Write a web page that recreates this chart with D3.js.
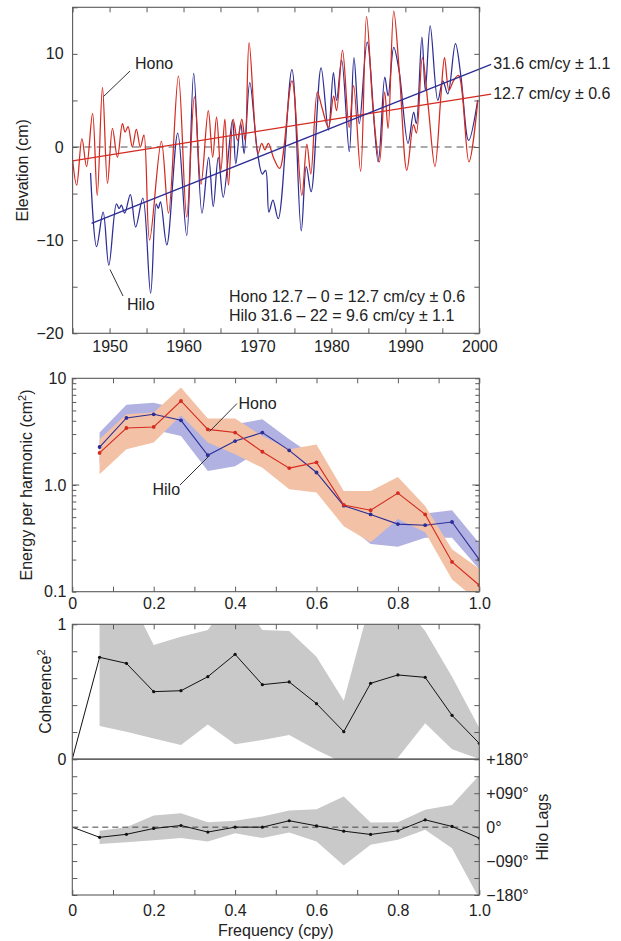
<!DOCTYPE html>
<html>
<head>
<meta charset="utf-8">
<script src="https://cdn.jsdelivr.net/npm/d3@7"></script>
<style>
  html, body { margin: 0; padding: 0; background: #fff; }
  svg { display: block; font-family: "Liberation Sans", Arial, Helvetica, sans-serif; }
</style>
</head>
<body>
<svg id="chart" width="621" height="941"></svg>
<script>
// ---------- Sea level records (smoothed, cm) ----------
const honoYear = [1945.0,1945.55,1946.26,1946.89,1947.7,1948.33,1949.04,1949.72,1950.39,1951.06,1951.74,1952.1,1952.5,1953.08,1953.62,1954.16,1954.65,1955.41,1957.0,1957.97,1959.31,1960.43,1961.47,1962.36,1963.35,1963.94,1964.47,1965.05,1965.59,1966.08,1966.71,1967.3,1967.88,1968.33,1968.87,1970.08,1970.57,1971.02,1971.47,1972.2,1973.0,1974.66,1976.0,1976.68,1977.22,1978.1,1978.7,1979.6,1980.3,1980.7,1981.5,1982.4,1983.0,1983.95,1984.75,1985.65,1986.5,1987.2,1987.67,1988.43,1989.2,1990.2,1991.1,1991.5,1992.3,1993.1,1994.0,1994.8,1995.3,1995.9,1996.5,1997.2,1998.6,1999.8];
const honoCm   = [-1.4,-4.1,0.9,-2.1,3.6,-5.2,6.4,-3.9,2.0,-1.1,2.5,1.6,2.2,0.0,1.9,0.0,1.3,-10.0,0.6,-7.1,7.6,-7.5,5.4,-4.0,3.9,-1.1,3.2,-2.5,3.0,-4.1,3.0,0.7,3.0,0.7,11.2,-0.7,0.4,-0.3,0.4,-1.2,-2.3,7.1,-5.2,0.3,-2.9,5.9,4.3,2.1,5.5,3.9,10.4,2.1,6.6,-2.6,14.0,3.9,-1.6,5.9,2.0,14.6,7.9,-2.5,2.4,1.5,9.6,4.3,-2.1,5.4,9.6,6.1,7.1,7.7,-1.6,5.0];

const hiloYear = [1947.43,1948.24,1949.13,1949.9,1950.93,1951.3,1951.6,1952.05,1952.81,1953.53,1954.5,1955.55,1956.31,1956.58,1956.89,1957.74,1959.22,1960.43,1961.38,1962.5,1963.4,1964.02,1964.7,1965.37,1966.62,1967.07,1967.74,1968.19,1968.96,1969.99,1970.65,1971.1,1971.55,1972.09,1972.81,1974.66,1975.92,1976.6,1977.26,1978.6,1979.6,1980.27,1980.7,1981.39,1982.42,1983.05,1983.77,1984.84,1986.32,1987.22,1987.67,1988.43,1989.15,1990.36,1991.12,1991.48,1992.24,1992.7,1993.36,1994.39,1995.07,1995.74,1996.77,1997.5,1998.56,1999.78];
const hiloCm   = [-2.8,-10.7,-7.0,-12.7,-6.1,-6.6,-6.25,-7.1,-5.1,-8.6,-5.5,-15.7,-6.1,-6.6,-5.9,-10.5,1.5,-9.5,7.9,-7.1,-1.1,-6.4,-1.1,-5.4,2.9,-1.8,2.5,-0.7,6.9,-0.5,-2.9,-2.5,-7.0,-5.7,-7.7,8.3,-9.0,-2.1,-4.8,8.5,1.8,8.0,5.0,9.3,-0.5,9.6,2.5,11.25,-1.6,7.5,5.5,10.7,8.2,0.4,3.75,2.5,11.8,6.1,13.0,5.0,7.1,5.7,11.1,7.7,0.7,5.0];

// Linear trends (rate in cm per century, start year and level, end year of the drawn line)
const trendNames  = ["Hono", "Hilo"];
const trendRate   = [12.7, 31.6];
const trendStart  = [1945.0, 1947.57];
const trendLevel0 = [-1.5, -8.2];
const trendEnd    = [2001.6, 2001.6];
const trendLabels = ["12.7 cm/cy \u00b1 0.6", "31.6 cm/cy \u00b1 1.1"];
const summaryLines = ["Hono 12.7 \u2013 0 = 12.7 cm/cy \u00b1 0.6", "Hilo 31.6 \u2013 22 = 9.6 cm/cy \u00b1 1.1"];

// ---------- Spectra (frequency in cycles per year) ----------
const freq = [0.067,0.133,0.2,0.267,0.333,0.4,0.467,0.533,0.6,0.667,0.733,0.8,0.867,0.933,1.0];
const hiloEnergy = [2.27,4.25,4.6,4.04,1.9,2.58,3.1,2.11,1.31,0.64,0.53,0.43,0.42,0.45,0.2];
const hiloLow    = [1.6,3.0,3.3,2.88,1.35,1.5,2.16,1.5,0.95,0.45,0.28,0.264,0.32,0.32,0.162];
const hiloHigh   = [3.1,5.66,5.9,5.1,2.6,3.7,4.13,2.68,1.8,0.8,0.7,0.65,0.54,0.58,0.284];
const honoEnergy = [2.0,3.42,3.5,6.13,3.32,3.1,2.05,1.44,1.63,0.65,0.58,0.84,0.53,0.19,0.115];
const honoLow    = [1.26,2.16,2.5,4.5,2.5,1.94,1.45,0.91,0.85,0.41,0.29,0.48,0.36,0.13,0.08];
const honoHigh   = [2.68,4.6,4.77,8.2,4.19,4.19,2.88,2.16,2.4,0.88,0.88,1.19,0.635,0.25,0.164];

// Coherence squared and Hilo phase lag (degrees); line values include f = 0
const freqLine  = [0,0.067,0.133,0.2,0.267,0.333,0.4,0.467,0.533,0.6,0.667,0.733,0.8,0.867,0.933,1.0];
const coherence = [0,0.755,0.71,0.5,0.507,0.611,0.777,0.552,0.572,0.411,0.203,0.562,0.624,0.606,0.324,0.116];
const cohLow    = [0.245,0.203,0.153,0.104,0.257,0.109,0.141,0.178,0.067,-0.03,-0.05,0.01,0.265,0.072,0];
const cohHigh   = [1.3,1.25,0.847,0.908,0.958,1.24,0.958,0.95,0.76,0.433,1.175,1.2,0.95,0.61,0.23];
const lag       = [0,-27,-19,-3.5,4.4,-13,0,0,17,3.5,-10.6,-19.4,-9.7,19.4,1.8,-29];
const lagLow    = [-45,-40,-35,-29,-38,-16,-29,-14,-38,-102,-47,-33.5,-7,-56,-190];
const lagHigh   = [-9.7,0,31,37,13,17,28,44,47.6,81,12.3,13,46,59,138];

// ---------- Tick values and labels ----------
const yearTicks  = [1945,1950,1955,1960,1965,1970,1975,1980,1985,1990,1995,2000];
const yearLabels = [1950,1960,1970,1980,1990,2000];
const elevTicks  = [-20,-15,-10,-5,0,5,10,15];
const elevLabels = [-20,-10,0,10];
const freqTicks  = [0,0.1,0.2,0.3,0.4,0.5,0.6,0.7,0.8,0.9,1.0];
const freqLabels = [0,0.2,0.4,0.6,0.8,1.0];
const energyTicks  = [0.1,0.2,0.3,0.4,0.5,0.6,0.7,0.8,0.9,1,2,3,4,5,6,7,8,9,10];
const energyLabels = [[0.1,"0.1"],[1,"1.0"],[10,"10"]];
const cohTicks   = [0,0.2,0.4,0.6,0.8,1];
const cohLabels  = [[0,"0"],[1,"1"]];
const lagTicks   = [-180,-135,-90,-45,0,45,90,135,180];
const lagLabels  = [[180,"+180\u00b0"],[90,"+090\u00b0"],[0,"0\u00b0"],[-90,"\u2212090\u00b0"],[-180,"\u2212180\u00b0"]];

// ---------- Styling ----------
const INK = "#222", FRAME = "#5a5a5a";
const RED = "#d42a1f", BLUE = "#2d2d96";
const BLUE_BAND = "#b2b2e2", RED_BAND = "#f3c2a6", GRAY_BAND = "#c9c9c9";
const FS = 16;

const svg = d3.select("#chart");
const defs = svg.append("defs");

function minus(v) { return v < 0 ? "\u2212" + Math.abs(v) : String(v); }

function styleAxis(a) {
  a.select(".domain").remove();
  a.attr("font-size", FS).attr("font-family", null);
  a.selectAll(".tick line").attr("stroke", FRAME).attr("stroke-width", 1);
  a.selectAll(".tick text").attr("fill", INK);
  return a;
}
function addAxis(gen, tx, ty) {
  return styleAxis(svg.append("g").attr("transform", `translate(${tx},${ty})`).call(gen));
}
function frameRect(x, y) {
  const [x0, x1] = x.range(), [y0, y1] = y.range();
  svg.append("rect")
    .attr("x", x0).attr("y", y1).attr("width", x1 - x0).attr("height", y0 - y1)
    .attr("fill", "none").attr("stroke", FRAME).attr("stroke-width", 1.1);
}
function clipFor(id, x, y) {
  const [x0, x1] = x.range(), [y0, y1] = y.range();
  defs.append("clipPath").attr("id", id).append("rect")
    .attr("x", x0).attr("y", y1).attr("width", x1 - x0).attr("height", y0 - y1);
  return `url(#${id})`;
}
function labelFmt(pairs) {
  const m = new Map(pairs.map(p => [p[0], p[1]]));
  return v => m.has(v) ? m.get(v) : "";
}
function rotLabel(x, y, parts) {
  const t = svg.append("text")
    .attr("transform", `translate(${x},${y}) rotate(-90)`)
    .attr("text-anchor", "middle").attr("dy", "0.35em")
    .attr("font-size", FS).attr("fill", INK);
  parts.forEach(p => {
    const s = t.append("tspan").text(p.text);
    if (p.sup) s.attr("font-size", 11).attr("dy", "-0.55em");
    if (p.after) s.attr("dy", "0.38em");
  });
}
function leader(x1, y1, x2, y2) {
  svg.append("line").attr("x1", x1).attr("y1", y1).attr("x2", x2).attr("y2", y2)
    .attr("stroke", "#333").attr("stroke-width", 1);
}
function txt(x, y, s, anchor) {
  svg.append("text").attr("x", x).attr("y", y).attr("text-anchor", anchor || "start")
    .attr("font-size", FS).attr("fill", INK).text(s);
}

// =====================================================================
// Panel 1: elevation time series
// =====================================================================
const xT = d3.scaleLinear().domain([1945, 2000]).range([72.6, 479.3]);
const yT = d3.scaleLinear().domain([-20, 15]).range([333.3, 7.3]);

addAxis(d3.axisBottom(xT).tickValues(yearTicks).tickSizeInner(-5).tickSizeOuter(0).tickPadding(7)
  .tickFormat(v => yearLabels.includes(v) ? String(v) : ""), 0, yT.range()[0]);
addAxis(d3.axisTop(xT).tickValues(yearTicks).tickSizeInner(-5).tickSizeOuter(0).tickFormat(() => ""), 0, yT.range()[1]);
addAxis(d3.axisLeft(yT).tickValues(elevTicks).tickSizeInner(-5).tickSizeOuter(0).tickPadding(9)
  .tickFormat(v => elevLabels.includes(v) ? minus(v) : ""), xT.range()[0], 0);
addAxis(d3.axisRight(yT).tickValues(elevTicks).tickSizeInner(-5).tickSizeOuter(0).tickFormat(() => ""), xT.range()[1], 0);

svg.append("line")
  .attr("x1", xT(1945)).attr("x2", xT(2000)).attr("y1", yT(0)).attr("y2", yT(0))
  .attr("stroke", "#555").attr("stroke-width", 1).attr("stroke-dasharray", "7,5");

const clipT = clipFor("clipTop", xT, yT);
const lineT = d3.line().x(d => xT(d[0])).y(d => yT(d[1])).curve(d3.curveCatmullRom.alpha(0.5));
const gT = svg.append("g").attr("clip-path", clipT);
gT.append("path").datum(d3.zip(hiloYear, hiloCm)).attr("d", lineT)
  .attr("fill", "none").attr("stroke", BLUE).attr("stroke-width", 1.25);
gT.append("path").datum(d3.zip(honoYear, honoCm)).attr("d", lineT)
  .attr("fill", "none").attr("stroke", RED).attr("stroke-width", 1.25);

// trend lines drawn from the stated rates
trendNames.forEach((n, i) => {
  const slope = trendRate[i] / 100;
  const y0 = trendLevel0[i];
  const y1 = y0 + slope * (trendEnd[i] - trendStart[i]);
  svg.append("line")
    .attr("x1", xT(trendStart[i])).attr("y1", yT(y0))
    .attr("x2", xT(trendEnd[i])).attr("y2", yT(y1))
    .attr("stroke", n === "Hono" ? RED : BLUE).attr("stroke-width", 1.25);
  txt(xT(trendEnd[i]) + 2, yT(y1) + 5, trendLabels[i]);
});

rotLabel(22, (yT.range()[0] + yT.range()[1]) / 2, [{ text: "Elevation (cm)" }]);
txt(135, 69, "Hono"); leader(130, 71, 103.5, 96.5);
txt(127, 310, "Hilo"); leader(123, 296, 110, 269.5);
txt(229, 301.5, summaryLines[0]);
txt(229, 320.5, summaryLines[1]);

// =====================================================================
// Panel 2: energy spectra
// =====================================================================
const xF = d3.scaleLinear().domain([0, 1]).range([72.3, 479.3]);
const yE = d3.scaleLog().domain([0.1, 10]).range([591.7, 378.3]);

const clipE = clipFor("clipEnergy", xF, yE);
const bandE = (lo, hi) => d3.area().x((d, i) => xF(freq[i])).y0((d, i) => yE(lo[i])).y1((d, i) => yE(hi[i]));
const lineE = vals => d3.line().x((d, i) => xF(freq[i])).y((d, i) => yE(vals[i]));
const gE = svg.append("g").attr("clip-path", clipE);
gE.append("path").datum(freq).attr("d", bandE(hiloLow, hiloHigh)).attr("fill", BLUE_BAND);
gE.append("path").datum(freq).attr("d", bandE(honoLow, honoHigh)).attr("fill", RED_BAND);
[[hiloEnergy, BLUE], [honoEnergy, RED]].forEach(([vals, col]) => {
  gE.append("path").datum(freq).attr("d", lineE(vals))
    .attr("fill", "none").attr("stroke", col).attr("stroke-width", 1.1);
  gE.selectAll(null).data(freq).join("circle")
    .attr("cx", d => xF(d)).attr("cy", (d, i) => yE(vals[i])).attr("r", 1.9).attr("fill", col);
});

addAxis(d3.axisBottom(xF).tickValues(freqTicks).tickSizeInner(-5).tickSizeOuter(0).tickPadding(6)
  .tickFormat(v => freqLabels.some(l => Math.abs(l - v) < 1e-9) ? (v === 0 ? "0" : d3.format(".1f")(v)) : ""), 0, yE.range()[0]);
addAxis(d3.axisTop(xF).tickValues(freqTicks).tickSizeInner(-5).tickSizeOuter(0).tickFormat(() => ""), 0, yE.range()[1]);
addAxis(d3.axisLeft(yE).tickValues(energyTicks).tickSizeInner(-4).tickSizeOuter(0).tickPadding(6)
  .tickFormat(labelFmt(energyLabels)), xF.range()[0], 0);
addAxis(d3.axisRight(yE).tickValues(energyTicks).tickSizeInner(-4).tickSizeOuter(0).tickFormat(() => ""), xF.range()[1], 0);
// longer ticks at the 1.0 decade
[xF.range()[0], xF.range()[1]].forEach((x0, k) => {
  svg.append("line").attr("x1", x0).attr("x2", k === 0 ? x0 + 7 : x0 - 7)
    .attr("y1", yE(1)).attr("y2", yE(1)).attr("stroke", FRAME);
});

rotLabel(26, (yE.range()[0] + yE.range()[1]) / 2,
  [{ text: "Energy per harmonic (cm" }, { text: "2", sup: true }, { text: ")", after: true }]);
txt(238.5, 408.5, "Hono"); leader(237, 403.5, 209.5, 431.5);
txt(152.5, 495, "Hilo"); leader(180, 485, 208.5, 456.5);

// =====================================================================
// Panel 3: coherence squared
// =====================================================================
const yC = d3.scaleLinear().domain([0, 1]).range([759, 624.3]);
const clipC = clipFor("clipCoh", xF, yC);
const gC = svg.append("g").attr("clip-path", clipC);
gC.append("path").datum(freq)
  .attr("d", d3.area().x((d, i) => xF(freq[i])).y0((d, i) => yC(cohLow[i])).y1((d, i) => yC(cohHigh[i])))
  .attr("fill", GRAY_BAND);
gC.append("path").datum(freqLine)
  .attr("d", d3.line().x((d, i) => xF(freqLine[i])).y((d, i) => yC(coherence[i])))
  .attr("fill", "none").attr("stroke", "#111").attr("stroke-width", 1);
gC.selectAll(null).data(freqLine.slice(1)).join("circle")
  .attr("cx", d => xF(d)).attr("cy", (d, i) => yC(coherence[i + 1])).attr("r", 1.6).attr("fill", "#111");

addAxis(d3.axisTop(xF).tickValues(freqTicks).tickSizeInner(-5).tickSizeOuter(0).tickFormat(() => ""), 0, yC.range()[1]);
addAxis(d3.axisLeft(yC).tickValues(cohTicks).tickSizeInner(-5).tickSizeOuter(0).tickPadding(6)
  .tickFormat(labelFmt(cohLabels)), xF.range()[0], 0);
addAxis(d3.axisRight(yC).tickValues(cohTicks).tickSizeInner(-5).tickSizeOuter(0).tickFormat(() => ""), xF.range()[1], 0);
rotLabel(45, (yC.range()[0] + yC.range()[1]) / 2, [{ text: "Coherence" }, { text: "2", sup: true }]);

// =====================================================================
// Panel 4: phase lag
// =====================================================================
const yL = d3.scaleLinear().domain([-180, 180]).range([895, 759.3]);
const clipL = clipFor("clipLag", xF, yL);
const gL = svg.append("g").attr("clip-path", clipL);
gL.append("path").datum(freq)
  .attr("d", d3.area().x((d, i) => xF(freq[i])).y0((d, i) => yL(lagLow[i])).y1((d, i) => yL(lagHigh[i])))
  .attr("fill", GRAY_BAND);
gL.append("line").attr("x1", xF(0)).attr("x2", xF(1)).attr("y1", yL(0)).attr("y2", yL(0))
  .attr("stroke", "#444").attr("stroke-width", 1).attr("stroke-dasharray", "6,4");
gL.append("path").datum(freqLine)
  .attr("d", d3.line().x((d, i) => xF(freqLine[i])).y((d, i) => yL(lag[i])))
  .attr("fill", "none").attr("stroke", "#111").attr("stroke-width", 1);
gL.selectAll(null).data(freqLine.slice(1)).join("circle")
  .attr("cx", d => xF(d)).attr("cy", (d, i) => yL(lag[i + 1])).attr("r", 1.6).attr("fill", "#111");

addAxis(d3.axisBottom(xF).tickValues(freqTicks).tickSizeInner(-5).tickSizeOuter(0).tickPadding(10)
  .tickFormat(v => freqLabels.some(l => Math.abs(l - v) < 1e-9) ? (v === 0 ? "0" : d3.format(".1f")(v)) : ""), 0, yL.range()[0]);
addAxis(d3.axisLeft(yL).tickValues(lagTicks).tickSizeInner(-5).tickSizeOuter(0).tickFormat(() => ""), xF.range()[0], 0);
addAxis(d3.axisRight(yL).tickValues(lagTicks).tickSizeInner(-5).tickSizeOuter(0).tickPadding(7)
  .tickFormat(labelFmt(lagLabels)), xF.range()[1], 0);

svg.append("text")
  .attr("transform", `translate(542,${(yL.range()[0] + yL.range()[1]) / 2}) rotate(-90)`)
  .attr("text-anchor", "middle").attr("dy", "0.35em")
  .attr("font-size", FS).attr("fill", INK).text("Hilo Lags");
txt((xF.range()[0] + xF.range()[1]) / 2, 936, "Frequency (cpy)", "middle");

// frames on top
frameRect(xT, yT);
frameRect(xF, yE);
frameRect(xF, yC);
frameRect(xF, yL);
</script>
</body>
</html>
